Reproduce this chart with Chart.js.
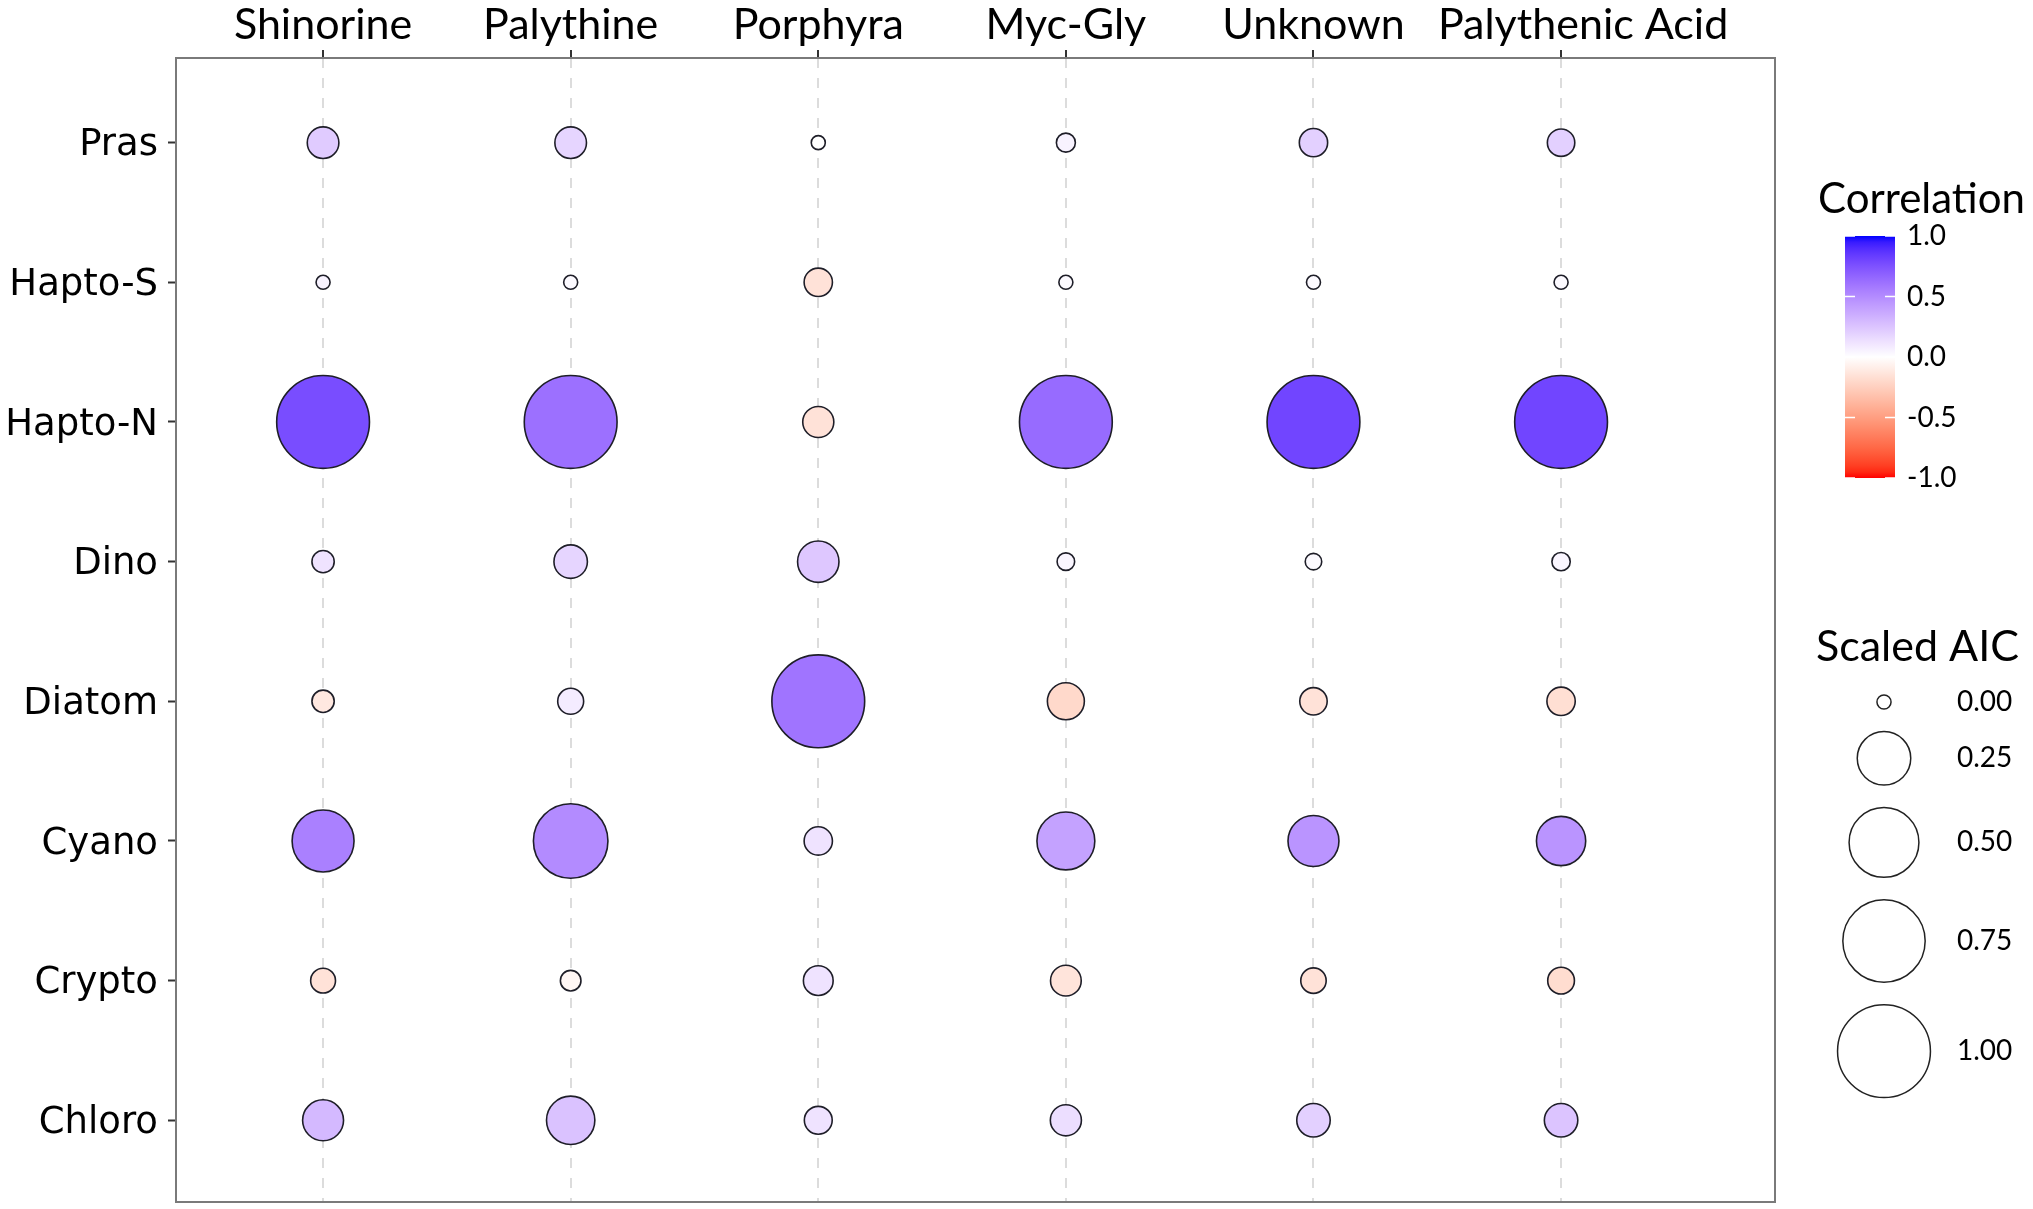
<!DOCTYPE html>
<html>
<head>
<meta charset="utf-8">
<script src="https://cdn.jsdelivr.net/npm/chart.js@4.4.1/dist/chart.umd.min.js"></script>
<style>
  html, body { margin: 0; padding: 0; background: #fff; }
  #wrap { width: 2033px; height: 1209px; position: relative; }
</style>
</head>
<body>
<div id="wrap"><canvas id="bubbleChart"></canvas></div>
<script>
// categories
const columns = ["Shinorine", "Palythine", "Porphyra", "Myc-Gly", "Unknown", "Palythenic Acid"];
const groups = ["Pras", "Hapto-S", "Hapto-N", "Dino", "Diatom", "Cyano", "Crypto", "Chloro"];

// scaled AIC per compound, in group order
const aicShinorine = [0.05, 0.00, 1.00, 0.011, 0.011, 0.37, 0.019, 0.117];
const aicPalythine = [0.05, 0.00, 1.00, 0.061, 0.023, 0.59, 0.007, 0.19];
const aicPorphyra  = [0.00, 0.033, 0.047, 0.121, 1.00, 0.033, 0.040, 0.031];
const aicMycGly    = [0.004, 0.00, 1.00, 0.002, 0.085, 0.31, 0.045, 0.047];
const aicUnknown   = [0.033, 0.00, 1.00, 0.001, 0.029, 0.22, 0.021, 0.061];
const aicPalyAcid  = [0.029, 0.00, 1.00, 0.003, 0.033, 0.20, 0.026, 0.061];

// correlation per compound, in group order
const corShinorine = [0.22, 0.05, 0.77, 0.12, -0.12, 0.55, -0.15, 0.30];
const corPalythine = [0.18, 0.02, 0.62, 0.18, 0.08, 0.50, -0.04, 0.26];
const corPorphyra  = [0.00, -0.15, -0.15, 0.24, 0.60, 0.12, 0.12, 0.12];
const corMycGly    = [0.05, 0.02, 0.64, 0.04, -0.20, 0.40, -0.14, 0.14];
const corUnknown   = [0.20, 0.02, 0.80, 0.02, -0.15, 0.46, -0.15, 0.20];
const corPalyAcid  = [0.20, 0.02, 0.80, 0.04, -0.17, 0.46, -0.18, 0.25];

// legend breaks
const corrBreaks = [1, 0.5, 0, -0.5, -1];
const aicBreaks = [0, 0.25, 0.5, 0.75, 1];

const aicCols = [aicShinorine, aicPalythine, aicPorphyra, aicMycGly, aicUnknown, aicPalyAcid];
const corCols = [corShinorine, corPalythine, corPorphyra, corMycGly, corUnknown, corPalyAcid];

// size scale: radius linear in sqrt(value)
const R_MIN = 7.8, R_MAX = 47.2;
const radiusOf = v => R_MIN + (R_MAX - R_MIN) * Math.sqrt(v);

// colour scale red - white - blue, interpolated in Lab
const WP = [0.95047, 1, 1.08883];
const lin = c => { c /= 255; return c <= 0.04045 ? c / 12.92 : Math.pow((c + 0.055) / 1.055, 2.4); };
const gam = c => {
  c = c <= 0.0031308 ? 12.92 * c : 1.055 * Math.pow(Math.max(c, 0), 1 / 2.4) - 0.055;
  return Math.round(Math.min(1, Math.max(0, c)) * 255);
};
function rgbToLab(rgb) {
  const [r, g, b] = rgb.map(lin);
  const xyz = [
    (0.4124 * r + 0.3576 * g + 0.1805 * b) / WP[0],
    (0.2126 * r + 0.7152 * g + 0.0722 * b) / WP[1],
    (0.0193 * r + 0.1192 * g + 0.9505 * b) / WP[2]
  ];
  const f = t => t > 0.008856 ? Math.cbrt(t) : 7.787 * t + 16 / 116;
  const [fx, fy, fz] = xyz.map(f);
  return [116 * fy - 16, 500 * (fx - fy), 200 * (fy - fz)];
}
function labToRgb([L, a, bb]) {
  const fy = (L + 16) / 116, fx = fy + a / 500, fz = fy - bb / 200;
  const inv = t => t * t * t > 0.008856 ? t * t * t : (t - 16 / 116) / 7.787;
  const X = inv(fx) * WP[0], Y = inv(fy) * WP[1], Z = inv(fz) * WP[2];
  const r = 3.2406 * X - 1.5372 * Y - 0.4986 * Z;
  const g = -0.9689 * X + 1.8758 * Y + 0.0415 * Z;
  const b = 0.0557 * X - 0.2040 * Y + 1.0570 * Z;
  return `rgb(${gam(r)},${gam(g)},${gam(b)})`;
}
const LAB_WHITE = rgbToLab([255, 255, 255]);
const LAB_BLUE = rgbToLab([0, 0, 255]);
const LAB_RED = rgbToLab([255, 0, 0]);
function colorOf(v) {
  const end = v >= 0 ? LAB_BLUE : LAB_RED;
  const t = Math.min(1, Math.abs(v));
  return labToRgb(LAB_WHITE.map((w, i) => w + (end[i] - w) * t));
}

const points = [];
columns.forEach((c, ci) => {
  groups.forEach((g, gi) => {
    points.push({ x: ci, y: gi, aic: aicCols[ci][gi], corr: corCols[ci][gi] });
  });
});

const legendPlugin = {
  id: "legends",
  afterDraw(chart) {
    const ctx = chart.ctx;
    const a = chart.chartArea;
    ctx.save();
    // panel border
    ctx.strokeStyle = "#7a7a7a";
    ctx.lineWidth = 2;
    ctx.strokeRect(a.left, a.top, a.right - a.left, a.bottom - a.top);

    // colourbar
    ctx.fillStyle = "#000";
    ctx.textBaseline = "middle";
    ctx.textAlign = "left";
    ctx.font = "42px Lato";
    ctx.fillText("Correlation", 1818, 199);
    const bx = 1845, bw = 50, top = 236, bottom = 478;
    const grad = ctx.createLinearGradient(0, top, 0, bottom);
    for (let i = 0; i <= 40; i++) grad.addColorStop(i / 40, colorOf(1 - 2 * i / 40));
    ctx.fillStyle = grad;
    ctx.fillRect(bx, top, bw, bottom - top);
    ctx.strokeStyle = "#fff";
    ctx.lineWidth = 1.5;
    ctx.font = "28px Lato";
    corrBreaks.forEach(v => {
      const y = top + (1 - v) / 2 * (bottom - top);
      ctx.beginPath();
      ctx.moveTo(bx, y); ctx.lineTo(bx + 10, y);
      ctx.moveTo(bx + bw - 10, y); ctx.lineTo(bx + bw, y);
      ctx.stroke();
      ctx.fillStyle = "#000";
      ctx.fillText(v.toFixed(1), 1907, y);
    });

    // size legend
    ctx.font = "43px Lato";
    ctx.fillText("Scaled AIC", 1816, 647);
    ctx.font = "28px Lato";
    let y = 702, prevR = null;
    aicBreaks.forEach(v => {
      const r = radiusOf(v);
      if (prevR !== null) y += prevR + r + 21;
      ctx.beginPath();
      ctx.arc(1884, y, r - 0.75, 0, Math.PI * 2);
      ctx.strokeStyle = "#222";
      ctx.lineWidth = 1.5;
      ctx.stroke();
      ctx.fillStyle = "#000";
      ctx.fillText(v.toFixed(2), 1957, y);
      prevR = r;
    });
    ctx.restore();
  }
};

new Chart(document.getElementById("bubbleChart"), {
  type: "bubble",
  data: {
    datasets: [{
      data: points,
      backgroundColor: ctx => colorOf(ctx.raw.corr),
      borderColor: "#1e1e28",
      borderWidth: 1.6,
      radius: ctx => radiusOf(ctx.raw.aic) - 0.8,
      clip: false
    }]
  },
  options: {
    responsive: true,
    maintainAspectRatio: false,
    animation: false,
    events: [],
    layout: { autoPadding: false, padding: { left: 0, top: 0, right: 258, bottom: 7 } },
    plugins: { legend: { display: false }, tooltip: { enabled: false } },
    scales: {
      x: {
        type: "linear",
        position: "top",
        min: -0.594,
        max: 5.864,
        afterBuildTicks: s => { s.ticks = columns.map((c, i) => ({ value: i })); },
        afterFit: s => { s.height = 58; s.paddingLeft = 0; s.paddingRight = 0; },
        ticks: {
          autoSkip: false,
          maxRotation: 0,
          padding: 3,
          color: "#000",
          font: { family: "Lato", size: 43, lineHeight: 1 },
          // the last label sits a little right of its tick in the original
          callback: v => (v === 5 ? "    " : "") + columns[v]
        },
        grid: {
          color: "#dcdcdc",
          lineWidth: 2,
          tickColor: "#333",
          tickWidth: 2,
          tickLength: 8
        },
        border: { display: false, dash: [10, 10] }
      },
      y: {
        type: "linear",
        reverse: true,
        min: -0.606,
        max: 7.585,
        afterBuildTicks: s => { s.ticks = groups.map((g, i) => ({ value: i })); },
        afterFit: s => { s.width = 176; s.paddingTop = 0; s.paddingBottom = 0; },
        ticks: {
          autoSkip: false,
          padding: 10,
          labelOffset: 3,
          color: "#000",
          font: { family: "DejaVu Sans", size: 37 },
          callback: v => groups[v]
        },
        grid: {
          drawOnChartArea: false,
          tickColor: "#333",
          tickWidth: 2,
          tickLength: 8
        },
        border: { display: false }
      }
    }
  },
  plugins: [legendPlugin]
});
</script>
</body>
</html>
